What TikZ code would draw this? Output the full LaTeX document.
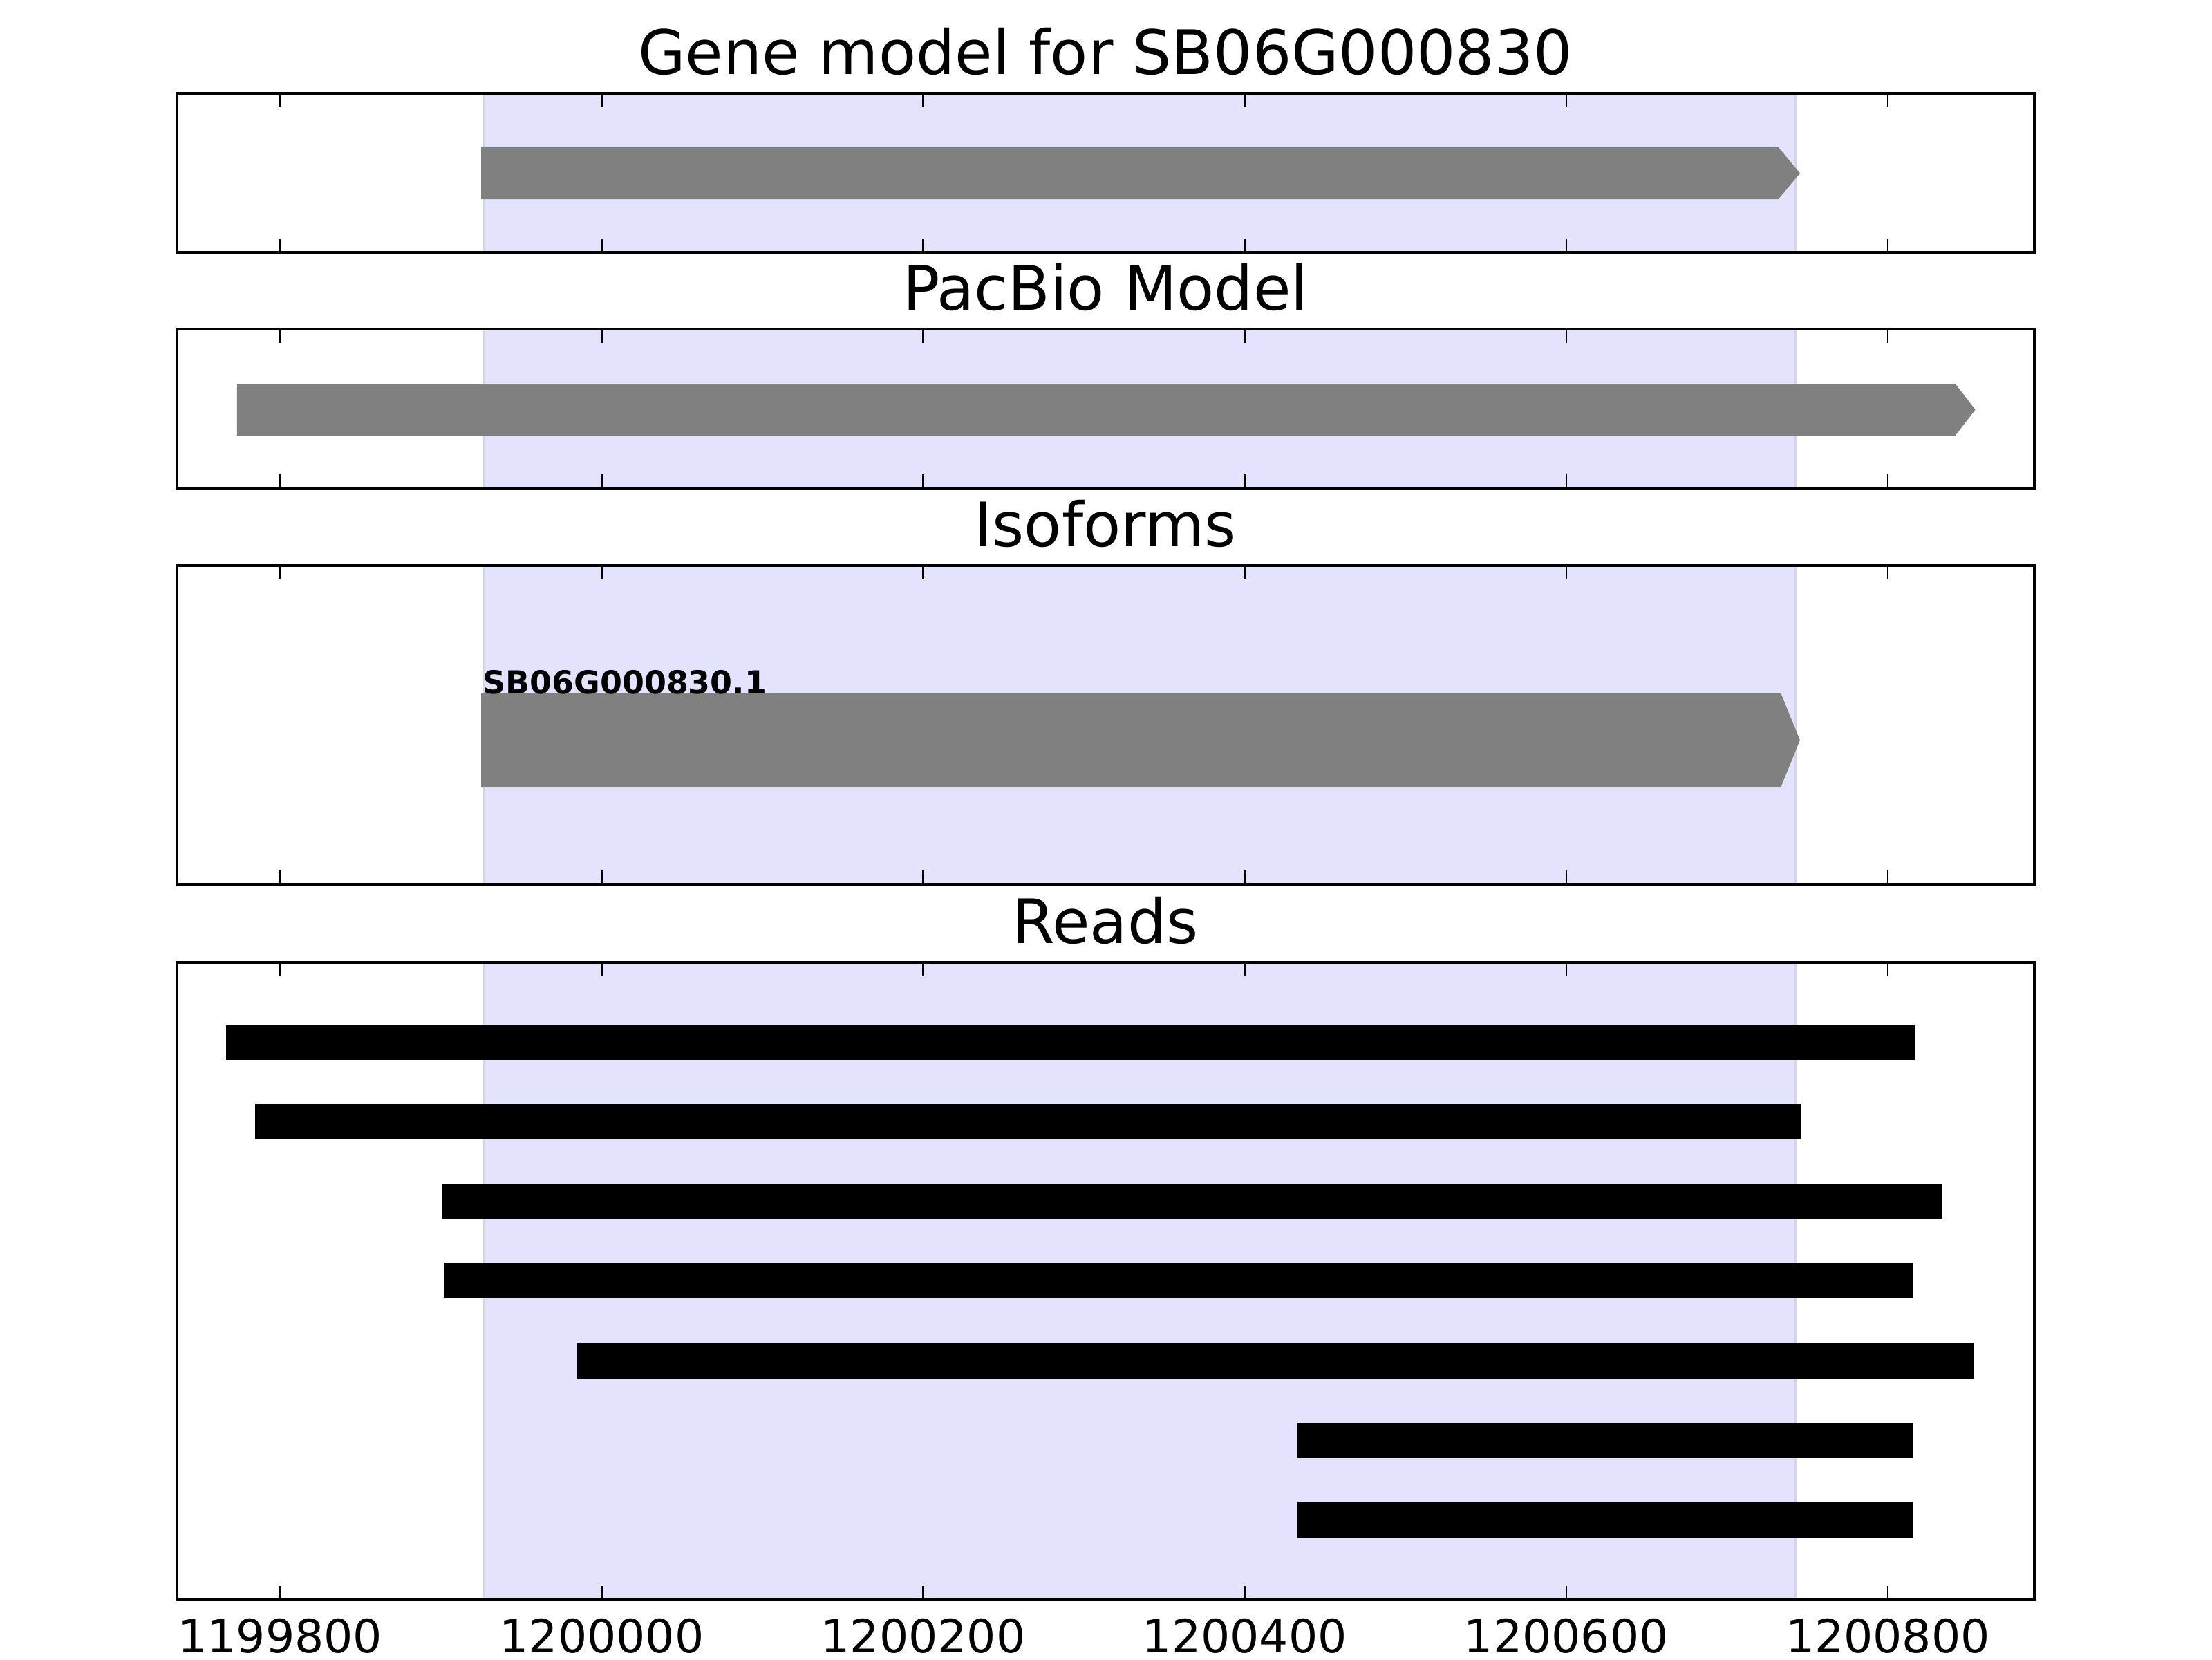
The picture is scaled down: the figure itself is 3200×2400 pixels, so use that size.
\documentclass[tikz,border=0pt]{standalone}
\usepackage{fontspec}
\setmainfont{DejaVu Sans}
\usepackage{tikz}

\definecolor{spanblue}{RGB}{227,227,254}
\definecolor{spanedge}{RGB}{212,212,236}
\definecolor{genegray}{RGB}{128,128,128}

\tikzset{
  frame/.style={draw=black, line width=0.8pt},
  tickmark/.style={line width=0.45pt},
  paneltitle/.style={font=\fontsize{16}{19}\selectfont, anchor=base, inner sep=0pt},
  ticklabel/.style={font=\fontsize{12}{14}\selectfont, anchor=base, inner sep=0pt},
  modelbar/.style={fill=genegray},
  readbar/.style={fill=black},
}

\begin{document}
\begin{tikzpicture}[x=0.180675pt, y=-0.180675pt]
\useasboundingbox (0,0) rectangle (3200,2400);
% x in bp after 1199700
\begin{scope}[xshift=31.229pt, x=0.42016pt]
\foreach \top/\bot in {135/365.4, 476/706.4, 818/1278.8, 1392/2313.6}
  \filldraw[fill=spanblue, draw=spanedge, line width=0.5pt] (226.7,\top) rectangle (1042.7,\bot);

\fill[modelbar] (225,213) -- (1032,213) -- (1045.4,250.5) -- (1032,288) -- (225,288) -- cycle;
\fill[modelbar] (73.1,555) -- (1142,555) -- (1154.5,592.5) -- (1142,630) -- (73.1,630) -- cycle;
\fill[modelbar] (225,1002) -- (1033.4,1002) -- (1045.4,1070.5) -- (1033.4,1139) -- (225,1139) -- cycle;
\node[anchor=base west, inner sep=0pt, font=\bfseries\fontsize{8.3}{10}\selectfont] (isolabel) at (225.5,1003) {SB06G000830.1};

\foreach \k/\a/\b in {1/66.1/1116.8, 2/84.3/1045.8, 3/200.8/1133.8, 4/202.2/1116,
                      5/284.7/1153.8, 6/732.2/1116, 7/732.2/1116}
  \fill[readbar] (\a,{1392+115.2*\k-25.5}) rectangle (\b,{1392+115.2*\k+25.5});

\foreach \top/\bot in {135/365.4, 476/706.4, 818/1278.8, 1392/2313.6}{
  \foreach \t in {100,300,...,1100}{
    \draw[tickmark] (\t,\top) -- ++(0,20);
    \draw[tickmark] (\t,\bot) -- ++(0,-20);
  }
  \draw[frame] (35.67,\top) rectangle (1191.2,\bot);
}

\node[paneltitle] (genetitle) at (613.3,107) {Gene model for SB06G000830};
\node[paneltitle] (pacbiotitle) at (613.3,448) {PacBio Model};
\node[paneltitle] (isotitle) at (613.3,790) {Isoforms};
\node[paneltitle] (readstitle) at (613.3,1364) {Reads};

\foreach \t/\lab in {100/1199800, 300/1200000, 500/1200200, 700/1200400, 900/1200600, 1100/1200800}
  \node[ticklabel] (tl\t) at (\t,2390) {\lab};
\end{scope}
\end{tikzpicture}
\end{document}
